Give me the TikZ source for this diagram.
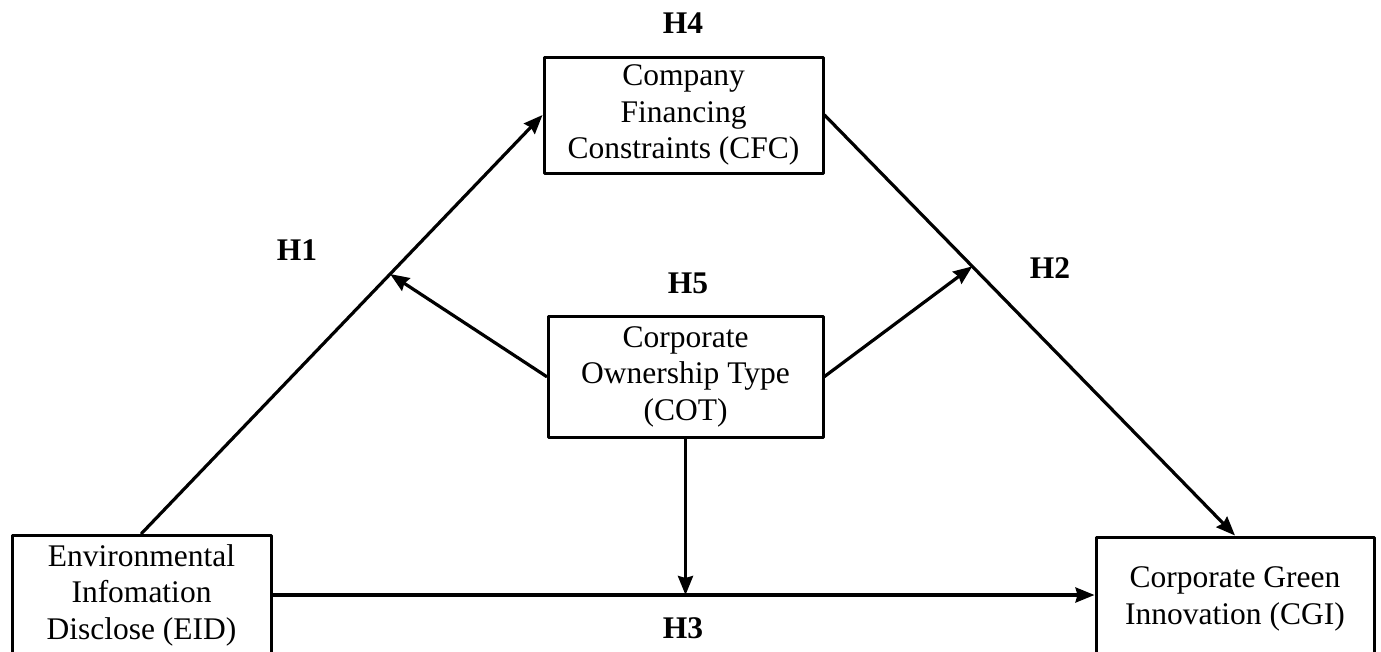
\documentclass[tikz,border=0pt]{standalone}
\usepackage{fontspec}
\setmainfont{Liberation Serif}
\usepackage{tikz}
\usetikzlibrary{arrows.meta,calc}

\begin{document}
\begin{tikzpicture}[line cap=round,line join=round,x=1pt,y=-1pt,
  >={Stealth[length=19pt,width=15pt,inset=2pt]},
  var/.style={draw,line width=3pt,align=center,inner sep=0pt,
    font=\fontsize{31.5}{36.5}\selectfont},
  hyp/.style={font=\fontsize{31.5}{36.5}\selectfont\bfseries},
  link/.style={->,line width=3.2pt}]
\useasboundingbox (0,0) rectangle (1381,651);
% variables
\node[var,minimum width=259,minimum height=120] (eid) at (141.5,595) {Environmental\\Infomation\\Disclose (EID)};
\node[var,minimum width=278,minimum height=124] (cgi) at (1235,599) {Corporate Green\\Innovation (CGI)};
\node[var,minimum width=279,minimum height=116] (cfc) at (683.5,115) {Company\\Financing\\Constraints (CFC)};
\node[var,minimum width=275,minimum height=121] (cot) at (685.5,376.5) {Corporate\\Ownership Type\\(COT)};
% hypotheses
\node[hyp] (h4) at (683,23) {H4};
\node[hyp] (h1) at (297,250) {H1};
\node[hyp] (h5) at (688,283) {H5};
\node[hyp] (h2) at (1050,268) {H2};
\node[hyp] (h3) at (683,628) {H3};
% paths
\draw[link] (eid.north) -- (cfc.west);
\draw[link] (cfc.east) -- (cgi.north);
\draw[link] (eid.east) -- (eid.east -| cgi.west);
\coordinate (m1) at ($(eid.north)!0.62!(cfc.west)$);
\coordinate (m2) at ($(cfc.east)!0.36!(cgi.north)$);
\coordinate (m3) at (cot.south |- eid.east);
\draw[link] (cot.west) -- (m1);
\draw[link] (cot.east) -- (m2);
\draw[link] (cot.south) -- (m3);
\end{tikzpicture}
\end{document}
